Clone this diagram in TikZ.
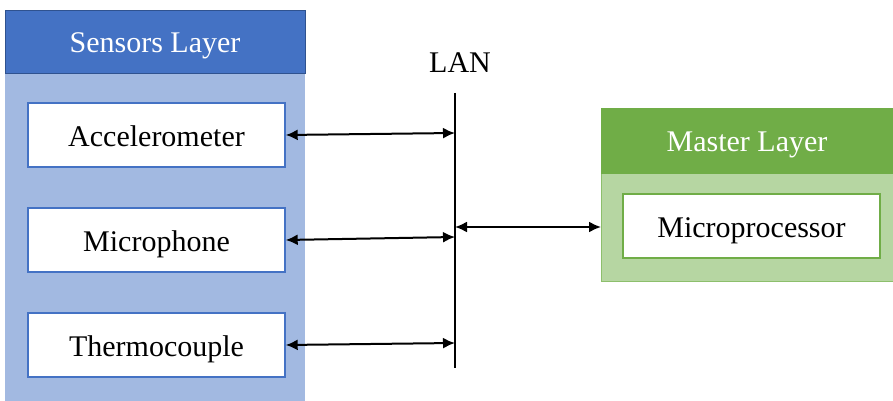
\documentclass[tikz,border=0pt]{standalone}
\usepackage{fontspec}
\setmainfont{Liberation Serif}
\usetikzlibrary{arrows.meta}

\definecolor{hdblue}{HTML}{4472C4}
\definecolor{lineblue}{HTML}{2F528F}
\definecolor{bgblue}{HTML}{A2B9E1}
\definecolor{hdgreen}{HTML}{70AD47}
\definecolor{bggreen}{HTML}{B6D6A2}
\definecolor{linegreen}{HTML}{8DBF6C}

\tikzset{
  label text/.style={text height=11pt, text depth=0pt},
  unit/.style={draw, fill=white, line width=0.7pt, minimum width=128.5pt, minimum height=32pt, inner sep=0pt, label text},
  link/.style={line width=1pt, {Latex[length=6pt,width=5.5pt]}-{Latex[length=6pt,width=5.5pt]}}
}

\begin{document}
\begin{tikzpicture}[x=0.5pt, y=-0.5pt, font=\fontsize{15}{18}\selectfont]
    \useasboundingbox (0, 0) rectangle (893, 401);
    % sensors layer
    \fill[bgblue] (5, 73) rectangle (305, 401);
    \filldraw[fill=hdblue, draw=lineblue, line width=0.4pt, text=white] (5, 10) rectangle (305, 73) node[pos=0.5, label text] (S){Sensors Layer};
    \node[unit, draw=hdblue] (acc) at (156.5, 135) {Accelerometer};
    \node[unit, draw=hdblue] (mic) at (156.5, 240) {Microphone};
    \node[unit, draw=hdblue] (thc) at (156.5, 345) {Thermocouple};
    % master layer
    \filldraw[fill=bggreen, draw=linegreen, line width=0.5pt] (601, 173) rectangle (893, 281) node[pos=0.5] (MB){};
    \filldraw[fill=hdgreen, draw=hdgreen, line width=0.4pt, text=white] (601, 108) rectangle (893, 173) node[pos=0.5, label text] (M){Master Layer};
    \node[unit, draw=hdgreen] (mcu) at (751.5, 226) {Microprocessor};
    % bus
    \coordinate (top) at (455, 93);
    \coordinate (bot) at (455, 368);
    \coordinate (b1) at (455, 133);
    \coordinate (b2) at (455, 237);
    \coordinate (b3) at (455, 343);
    \coordinate (b4) at (455, 227);
    \coordinate (mw) at (601, 227);
    \draw[line width=1pt] (top) -- (bot);
    \node[label text] (lan) at (460, 62) {LAN};
    \draw[link] (acc.east) -- (b1);
    \draw[link] (mic.east) -- (b2);
    \draw[link] (thc.east) -- (b3);
    \draw[link] (b4) -- (mw);
\end{tikzpicture}
\end{document}
